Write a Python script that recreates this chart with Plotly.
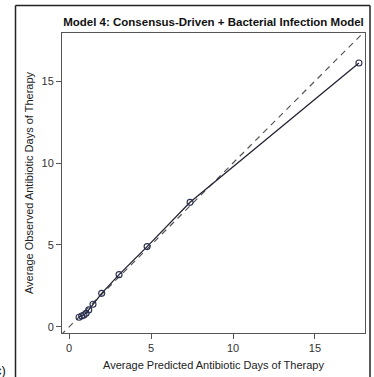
import plotly.graph_objects as go

predicted = [0.61, 0.77, 0.91, 1.04, 1.20, 1.46, 1.99, 3.05, 4.76, 7.38, 17.68]
observed = [0.59, 0.67, 0.73, 0.83, 1.04, 1.38, 2.05, 3.19, 4.90, 7.60, 16.10]
ref_line = [-0.5, 18.5]
x_ticks = [0, 5, 10, 15]
y_ticks = [0, 5, 10, 15]

FONT = "Liberation Sans, Arial, sans-serif"
W, H = 374, 377
ML, MR, MT, MB = 11, 1, 1, 0
PW, PH = W - ML - MR, H - MT - MB
def px(xpix):
    return (xpix - ML) / PW
def py(ypix):
    return (H - MB - ypix) / PH

fig = go.Figure()
fig.add_trace(go.Scatter(
    x=ref_line, y=ref_line, mode="lines",
    line=dict(color="#555555", width=1.2, dash="6px,5px"),
    hoverinfo="skip", showlegend=False))
fig.add_trace(go.Scatter(
    x=predicted, y=observed, mode="lines+markers",
    line=dict(color="#222233", width=1.3),
    marker=dict(symbol="circle-open", size=6, color="#2a2f4f", line=dict(width=1.1)),
    showlegend=False))

axis_common = dict(
    showgrid=False, zeroline=False, showline=True, mirror=True,
    linecolor="#555555", linewidth=1,
    ticks="outside", ticklen=5, tickcolor="#555555",
    tickfont=dict(family=FONT, size=11, color="#333333"),
)
fig.update_xaxes(range=[-0.43, 18.05], tickvals=x_ticks, domain=[px(62), px(365)],
                 title=dict(text="Average Predicted Antibiotic Days of Therapy",
                            font=dict(family=FONT, size=11, color="#222222"), standoff=8),
                 **axis_common)
fig.update_yaxes(range=[-0.37, 17.93], tickvals=y_ticks, domain=[py(333), py(33)],
                 title=dict(text="Average Observed Antibiotic Days of Therapy",
                            font=dict(family=FONT, size=11, color="#222222"), standoff=5),
                 **axis_common)

border = dict(color="#222222", width=1.5)
shapes = [
    dict(type="line", xref="paper", yref="paper", x0=px(15.5), x1=px(15.5), y0=0, y1=py(5.5), line=border),
    dict(type="line", xref="paper", yref="paper", x0=px(15.5), x1=px(370), y0=py(5.5), y1=py(5.5), line=border),
    dict(type="line", xref="paper", yref="paper", x0=px(370), x1=px(370), y0=0, y1=py(5.5), line=border),
]

fig.update_layout(
    width=W, height=H,
    margin=dict(l=ML, r=MR, t=MT, b=MB, autoexpand=False),
    paper_bgcolor="white", plot_bgcolor="white",
    title=dict(text="<b>Model 4: Consensus-Driven + Bacterial Infection Model</b>",
               font=dict(family=FONT, size=11.5, color="#111111"),
               x=px(213.5), xref="paper", xanchor="center",
               y=1 - 22 / H, yref="container", yanchor="middle"),
    shapes=shapes,
    annotations=[dict(text="c)", xref="paper", yref="paper",
                      x=px(8), y=py(370),
                      xanchor="right", yanchor="middle", showarrow=False,
                      font=dict(family=FONT, size=13, color="#111111"))],
)

fig.write_html("out.html", config={"displayModeBar": False},
               post_script="document.body.style.margin='0';document.body.style.padding='0';")
